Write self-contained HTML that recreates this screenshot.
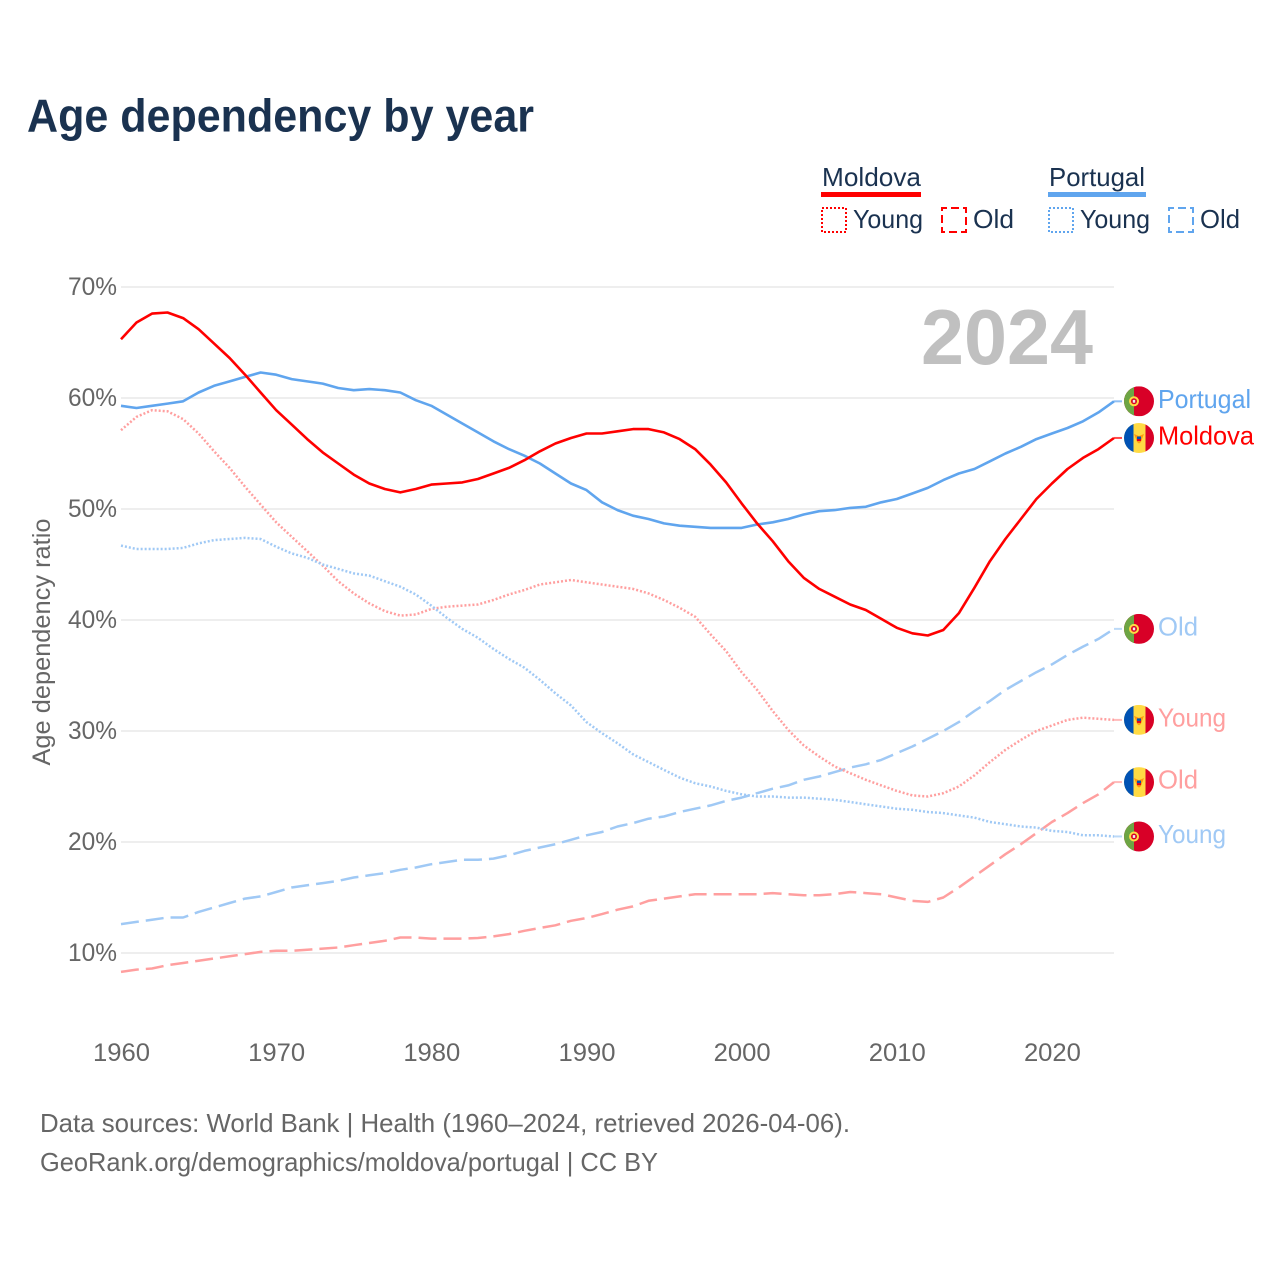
<!DOCTYPE html>
<html lang="en">
<head>
<meta charset="utf-8">
<title>Age dependency by year</title>
<style>
html,body{margin:0;padding:0;background:#fff;}
svg{display:block;font-family:"Liberation Sans",sans-serif;}
</style>
</head>
<body>
<svg id="chart" xmlns="http://www.w3.org/2000/svg" width="1280" height="1280" viewBox="0 0 1280 1280">
<defs>
<clipPath id="flag-clip"><circle cx="0" cy="0" r="15"/></clipPath>
<g id="flag-portugal" clip-path="url(#flag-clip)">
<rect x="-15" y="-15" width="30" height="30" fill="#d80027"/>
<rect x="-15" y="-15" width="10" height="30" fill="#6da544"/>
<circle cx="-5" cy="0" r="5" fill="#ffda44"/>
<circle cx="-5" cy="0" r="3" fill="#d80027"/>
<rect x="-6.2" y="-1.4" width="2.4" height="2.8" fill="#f0f0f0"/>
</g>
<g id="flag-moldova" clip-path="url(#flag-clip)">
<rect x="-15" y="-15" width="30" height="30" fill="#ffda44"/>
<rect x="-15" y="-15" width="9.5" height="30" fill="#0052b4"/>
<rect x="6.5" y="-15" width="8.5" height="30" fill="#d80027"/>
<path d="M-5 -4 L0 -2 L5 -4 L3 1 L2 4 L0 5.5 L-2 4 L-3 1 Z" fill="#ff9811"/>
<rect x="-2" y="-1.5" width="4" height="2.5" fill="#0052b4"/>
<rect x="-2" y="1" width="4" height="2" fill="#d80027"/>
</g>
</defs>

<text x="27" y="131.5" font-size="46" font-weight="700" fill="#1a3250" textLength="507" lengthAdjust="spacingAndGlyphs">Age dependency by year</text>

<g font-size="26" fill="#1a3250">
<text x="822" y="186" textLength="99" lengthAdjust="spacingAndGlyphs">Moldova</text>
<rect x="821" y="192" width="100" height="5" fill="#ff0000"/>
<text x="1049" y="186" textLength="96" lengthAdjust="spacingAndGlyphs">Portugal</text>
<rect x="1048" y="192" width="98" height="5" fill="#60a5ee"/>
<rect x="822" y="208" width="24" height="24" fill="none" stroke="#ff0000" stroke-width="2" stroke-dasharray="2 2"/>
<text x="853" y="228" textLength="70" lengthAdjust="spacingAndGlyphs">Young</text>
<rect x="942" y="208" width="24" height="24" fill="none" stroke="#ff0000" stroke-width="2" stroke-dasharray="8 4" stroke-dashoffset="3"/>
<text x="973" y="228" textLength="41" lengthAdjust="spacingAndGlyphs">Old</text>
<rect x="1049" y="208" width="24" height="24" fill="none" stroke="#60a5ee" stroke-width="2" stroke-dasharray="2 2"/>
<text x="1080" y="228" textLength="70" lengthAdjust="spacingAndGlyphs">Young</text>
<rect x="1169" y="208" width="24" height="24" fill="none" stroke="#60a5ee" stroke-width="2" stroke-dasharray="8 4" stroke-dashoffset="3"/>
<text x="1200" y="228" textLength="40" lengthAdjust="spacingAndGlyphs">Old</text>
</g>

<g id="grid"></g>
<g id="y-ticks"></g>
<g id="x-ticks"></g>

<text transform="translate(50,642) rotate(-90)" text-anchor="middle" font-size="25" fill="#666666" textLength="247" lengthAdjust="spacingAndGlyphs">Age dependency ratio</text>
<text x="921" y="364" font-size="78" font-weight="700" fill="#c0c0c0" textLength="172" lengthAdjust="spacingAndGlyphs">2024</text>

<g id="series"></g>
<g id="end-labels"></g>

<text x="40" y="1132" font-size="26" fill="#666666" textLength="810" lengthAdjust="spacingAndGlyphs">Data sources: World Bank | Health (1960–2024, retrieved 2026-04-06).</text>
<text x="40" y="1171" font-size="26" fill="#666666" textLength="618" lengthAdjust="spacingAndGlyphs">GeoRank.org/demographics/moldova/portugal | CC BY</text>
</svg>

<script>
const firstYear = 1960;
const lastYear = 2024;
const yTicks = [10, 20, 30, 40, 50, 60, 70];
const xTicks = [1960, 1970, 1980, 1990, 2000, 2010, 2020];

const moldovaTotal = [
65.3,66.8,67.6,67.7,67.2,66.2,64.9,63.6,62.1,60.5,
58.9,57.6,56.3,55.1,54.1,53.1,52.3,51.8,51.5,51.8,
52.2,52.3,52.4,52.7,53.2,53.7,54.4,55.2,55.9,56.4,
56.8,56.8,57.0,57.2,57.2,56.9,56.3,55.4,54.0,52.4,
50.5,48.7,47.1,45.3,43.8,42.8,42.1,41.4,40.9,40.1,
39.3,38.8,38.6,39.1,40.6,42.9,45.3,47.3,49.1,50.9,
52.3,53.6,54.6,55.4,56.4];

const portugalTotal = [
59.3,59.1,59.3,59.5,59.7,60.5,61.1,61.5,61.9,62.3,
62.1,61.7,61.5,61.3,60.9,60.7,60.8,60.7,60.5,59.8,
59.3,58.5,57.7,56.9,56.1,55.4,54.8,54.1,53.2,52.3,
51.7,50.6,49.9,49.4,49.1,48.7,48.5,48.4,48.3,48.3,
48.3,48.6,48.8,49.1,49.5,49.8,49.9,50.1,50.2,50.6,
50.9,51.4,51.9,52.6,53.2,53.6,54.3,55.0,55.6,56.3,
56.8,57.3,57.9,58.7,59.7];

const moldovaYoung = [
57.1,58.3,58.9,58.8,58.1,56.8,55.2,53.7,52.0,50.4,
48.8,47.5,46.2,44.9,43.5,42.4,41.5,40.8,40.4,40.5,
41.0,41.2,41.3,41.4,41.8,42.3,42.7,43.2,43.4,43.6,
43.4,43.2,43.0,42.8,42.4,41.8,41.1,40.3,38.7,37.2,
35.3,33.7,31.8,30.1,28.7,27.7,26.8,26.2,25.6,25.1,
24.6,24.2,24.1,24.4,25.0,26.0,27.2,28.3,29.2,30.0,
30.5,31.0,31.2,31.1,31.0];

const moldovaOld = [
8.3,8.5,8.6,8.9,9.1,9.3,9.5,9.7,9.9,10.1,
10.2,10.2,10.3,10.4,10.5,10.7,10.9,11.1,11.4,11.4,
11.3,11.3,11.3,11.35,11.5,11.7,12.0,12.25,12.5,12.9,
13.15,13.5,13.9,14.2,14.7,14.9,15.1,15.3,15.3,15.3,
15.3,15.3,15.4,15.3,15.2,15.2,15.3,15.5,15.4,15.3,
15.0,14.7,14.6,15.0,15.9,16.9,17.9,18.9,19.8,20.8,
21.8,22.6,23.5,24.3,25.4];

const portugalYoung = [
46.7,46.4,46.4,46.4,46.5,46.9,47.2,47.3,47.4,47.3,
46.6,46.0,45.6,45.0,44.6,44.2,44.0,43.5,43.0,42.3,
41.3,40.2,39.2,38.4,37.4,36.5,35.7,34.6,33.4,32.3,
30.8,29.8,28.9,27.9,27.2,26.5,25.8,25.3,25.0,24.6,
24.3,24.1,24.1,24.0,24.0,23.9,23.8,23.6,23.4,23.2,
23.0,22.9,22.7,22.6,22.4,22.2,21.8,21.6,21.4,21.3,
21.0,20.9,20.6,20.6,20.5];

const portugalOld = [
12.6,12.8,13.0,13.2,13.2,13.7,14.1,14.5,14.9,15.1,
15.5,15.9,16.1,16.3,16.5,16.8,17.0,17.2,17.5,17.7,
18.0,18.2,18.4,18.4,18.5,18.8,19.2,19.5,19.8,20.2,
20.6,20.9,21.4,21.7,22.1,22.3,22.7,23.0,23.3,23.7,
24.0,24.4,24.8,25.1,25.6,25.9,26.3,26.7,27.0,27.4,
28.0,28.6,29.3,30.0,30.8,31.8,32.7,33.7,34.5,35.3,
36.0,36.85,37.6,38.3,39.2];

const NS = 'http://www.w3.org/2000/svg';
const plotLeft = 121, plotRight = 1114, connectorEnd = 1122, flagX = 1139, labelX = 1158;
function xScale(year) { return plotLeft + (year - firstYear) * (plotRight - plotLeft) / (lastYear - firstYear); }
function yScale(v) { return 953 - (v - 10) * 11.1; }
function make(tag, attrs, parent) {
  const el = document.createElementNS(NS, tag);
  for (const k in attrs) el.setAttribute(k, attrs[k]);
  parent.appendChild(el);
  return el;
}

const gridGroup = document.getElementById('grid');
const yGroup = document.getElementById('y-ticks');
const xGroup = document.getElementById('x-ticks');
const seriesGroup = document.getElementById('series');
const endGroup = document.getElementById('end-labels');

yTicks.forEach(function (t) {
  const line = make('line', {x1: plotLeft, x2: plotRight, y1: yScale(t), y2: yScale(t), stroke: '#e9e9e9', 'stroke-width': 1.5}, gridGroup);
  
  
  const label = make('text', {x: 117, y: yScale(t) + 8, 'text-anchor': 'end', 'font-size': 25, fill: '#666666', textLength: 49, lengthAdjust: 'spacingAndGlyphs'}, yGroup);
  label.textContent = t + '%';
  
  
});

xTicks.forEach(function (t) {
  const label = make('text', {x: xScale(t) + 0.5, y: 1061, 'text-anchor': 'middle', 'font-size': 25, fill: '#666666', textLength: 57, lengthAdjust: 'spacingAndGlyphs'}, xGroup);
  label.textContent = t;
  
  
});

function drawLine(values, color, width, dash, name) {
  const pts = values.map(function (v, i) { return xScale(firstYear + i).toFixed(1) + ',' + yScale(v).toFixed(1); });
  const line = make('polyline', {points: pts.join(' '), fill: 'none', stroke: color, 'stroke-width': width, 'stroke-linejoin': 'round'}, seriesGroup);
  if (dash) line.setAttribute('stroke-dasharray', dash);
  
  
  const endY = yScale(values[values.length - 1]);
  const connector = make('line', {x1: plotRight, x2: connectorEnd, y1: endY, y2: endY, stroke: color, 'stroke-width': 2, opacity: 0.7}, seriesGroup);
  
  
}

drawLine(moldovaOld, '#ff9f9f', 2.5, '18 7', 'line-moldova-old');
drawLine(portugalOld, '#a0c9f5', 2.5, '18 7', 'line-portugal-old');
drawLine(moldovaYoung, '#ff9f9f', 2.5, '2 2', 'line-moldova-young');
drawLine(portugalYoung, '#a0c9f5', 2.5, '2 2', 'line-portugal-young');
drawLine(portugalTotal, '#60a5ee', 2.6, '', 'line-portugal-total');
drawLine(moldovaTotal, '#ff0000', 2.6, '', 'line-moldova-total');

function drawEnd(values, flagId, text, color, textWidth, name) {
  const y = yScale(values[values.length - 1]);
  const flag = make('use', {href: '#' + flagId, transform: 'translate(' + flagX + ',' + y.toFixed(1) + ')'}, endGroup);
  
  
  const label = make('text', {x: labelX, y: (y + 6.5).toFixed(1), 'font-size': 26, fill: color, textLength: textWidth, lengthAdjust: 'spacingAndGlyphs'}, endGroup);
  label.textContent = text;
  
  
}

drawEnd(portugalTotal, 'flag-portugal', 'Portugal', '#60a5ee', 93, 'end-portugal-total');
drawEnd(moldovaTotal, 'flag-moldova', 'Moldova', '#ff0000', 96, 'end-moldova-total');
drawEnd(portugalOld, 'flag-portugal', 'Old', '#a0c9f5', 40, 'end-portugal-old');
drawEnd(moldovaYoung, 'flag-moldova', 'Young', '#ff9f9f', 68, 'end-moldova-young');
drawEnd(moldovaOld, 'flag-moldova', 'Old', '#ff9f9f', 40, 'end-moldova-old');
drawEnd(portugalYoung, 'flag-portugal', 'Young', '#a0c9f5', 68, 'end-portugal-young');
</script>
</body>
</html>
